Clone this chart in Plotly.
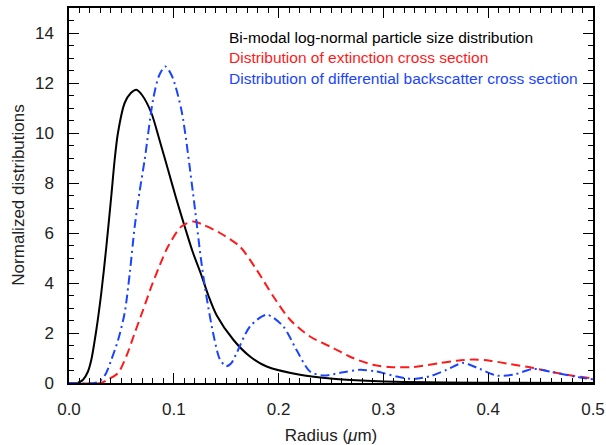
import plotly.graph_objects as go

# Bi-modal log-normal particle size distribution (black)
radius_size = [0, 0.008, 0.0134, 0.018, 0.0213, 0.026, 0.0308, 0.0355, 0.0404, 0.0435, 0.0467,
               0.0531, 0.059, 0.0643, 0.070, 0.0786, 0.0865, 0.0945, 0.1025, 0.1104, 0.118,
               0.126, 0.133, 0.141, 0.1568, 0.1727, 0.1886, 0.2204, 0.252, 0.284, 0.32, 0.36,
               0.42, 0.5]
dist_size = [0, 0, 0.13, 0.45, 0.93, 2.1, 3.6, 5.4, 7.5, 8.9, 10.0,
             11.2, 11.6, 11.73, 11.5, 10.8, 9.7, 8.53, 7.35, 6.26, 5.25,
             4.35, 3.5, 2.7, 1.73, 1.06, 0.66, 0.33, 0.17, 0.09, 0.04, 0.02,
             0.01, 0.0]

# Distribution of extinction cross section (red)
radius_ext = [0, 0.030, 0.037, 0.0468, 0.055, 0.0627, 0.0705, 0.0786, 0.0865, 0.0945, 0.1072,
              0.1183, 0.128, 0.144, 0.163, 0.179, 0.195, 0.211, 0.230, 0.252, 0.271, 0.290,
              0.306, 0.3285, 0.354, 0.370, 0.386, 0.4017, 0.4208, 0.443, 0.462, 0.481, 0.497, 0.5]
dist_ext = [0, 0, 0.13, 0.4, 1.1, 2.0, 2.9, 3.86, 4.7, 5.46, 6.26,
            6.46, 6.33, 6.0, 5.46, 4.53, 3.46, 2.53, 1.86, 1.4, 1.0, 0.73,
            0.64, 0.64, 0.8, 0.89, 0.94, 0.89, 0.76, 0.6, 0.43, 0.29, 0.2, 0.18]

# Distribution of differential backscatter cross section (blue)
radius_bsc = [0, 0.024, 0.0308, 0.0355, 0.0404, 0.0467, 0.0531, 0.058, 0.0627, 0.0675, 0.0722,
              0.0802, 0.086, 0.0919, 0.098, 0.1072, 0.1183, 0.126, 0.131, 0.138, 0.144, 0.150,
              0.155, 0.160, 0.1727, 0.1886, 0.2045, 0.217, 0.230, 0.2427, 0.2617, 0.2777,
              0.2936, 0.3127, 0.3285, 0.3445, 0.3604, 0.376, 0.392, 0.408, 0.424, 0.443,
              0.462, 0.481, 0.497, 0.5]
dist_bsc = [0, 0, 0.13, 0.4, 0.93, 1.7, 2.8, 4.4, 6.26, 7.7, 8.93,
            11.33, 12.3, 12.66, 12.3, 10.93, 7.6, 4.93, 3.5, 1.9, 0.95, 0.67,
            0.8, 1.2, 2.26, 2.73, 2.26, 1.33, 0.46, 0.3, 0.43, 0.53,
            0.46, 0.26, 0.16, 0.27, 0.53, 0.8, 0.56, 0.3, 0.33, 0.56,
            0.43, 0.27, 0.16, 0.15]

legend_labels = ["Bi-modal log-normal particle size distribution",
                 "Distribution of extinction cross section",
                 "Distribution of differential backscatter cross section"]
colors = ["#000000", "#FF1A1A", "#1A44FF"]

x_ticks = [0.0, 0.1, 0.2, 0.3, 0.4, 0.5]
y_ticks = [0, 2, 4, 6, 8, 10, 12, 14]

fig = go.Figure()
fig.add_trace(go.Scatter(x=radius_size, y=dist_size, mode="lines",
                         line=dict(color=colors[0], width=2, shape="spline", smoothing=0.8)))
fig.add_trace(go.Scatter(x=radius_ext, y=dist_ext, mode="lines",
                         line=dict(color=colors[1], width=2, dash="9px,5px", shape="spline", smoothing=0.8)))
fig.add_trace(go.Scatter(x=radius_bsc, y=dist_bsc, mode="lines",
                         line=dict(color=colors[2], width=2, dash="9px,4px,2px,4px", shape="spline", smoothing=0.8)))

axis_common = dict(showline=True, linecolor="black", linewidth=1.5, mirror="allticks",
                   ticks="inside", ticklen=10, tickwidth=1, tickcolor="black",
                   showgrid=False, zeroline=False, automargin=False)

fig.update_layout(
    width=606, height=445,
    margin=dict(l=69, r=13, t=8, b=62),
    plot_bgcolor="white", paper_bgcolor="white",
    showlegend=False,
    font=dict(family="Liberation Sans, Arial, sans-serif", size=17, color="#222222"),
    xaxis=dict(range=[0, 0.5], tickvals=x_ticks, tickformat=".1f",
               minor=dict(dtick=0.01, ticks="inside", ticklen=5, tickcolor="black", showgrid=False),
               title=dict(text="Radius (<i>μ</i>m)", font=dict(size=17)),
               ticklabelstandoff=10,
               **axis_common),
    yaxis=dict(range=[0, 15], tickvals=y_ticks,
               minor=dict(dtick=0.5, ticks="inside", ticklen=5, tickcolor="black", showgrid=False),
               ticklabelstandoff=10,
               **axis_common),
)

# y-axis title as rotated text
fig.add_annotation(x=-0.097, y=0.5, xref="paper", yref="paper", text="Normalized distributions",
                   showarrow=False, textangle=-90, xanchor="center", yanchor="middle",
                   font=dict(size=17, color="#222222"))

ys = [0.92, 0.8667, 0.8107]
for lab, col, yy in zip(legend_labels, colors, ys):
    fig.add_annotation(x=0.3015, y=yy, xref="paper", yref="paper", text=lab,
                       showarrow=False, xanchor="left", yanchor="middle",
                       font=dict(size=15.5, color=col))

fig.write_html("out.html", post_script="document.body.style.margin='0';",
               config={"displayModeBar": False})
